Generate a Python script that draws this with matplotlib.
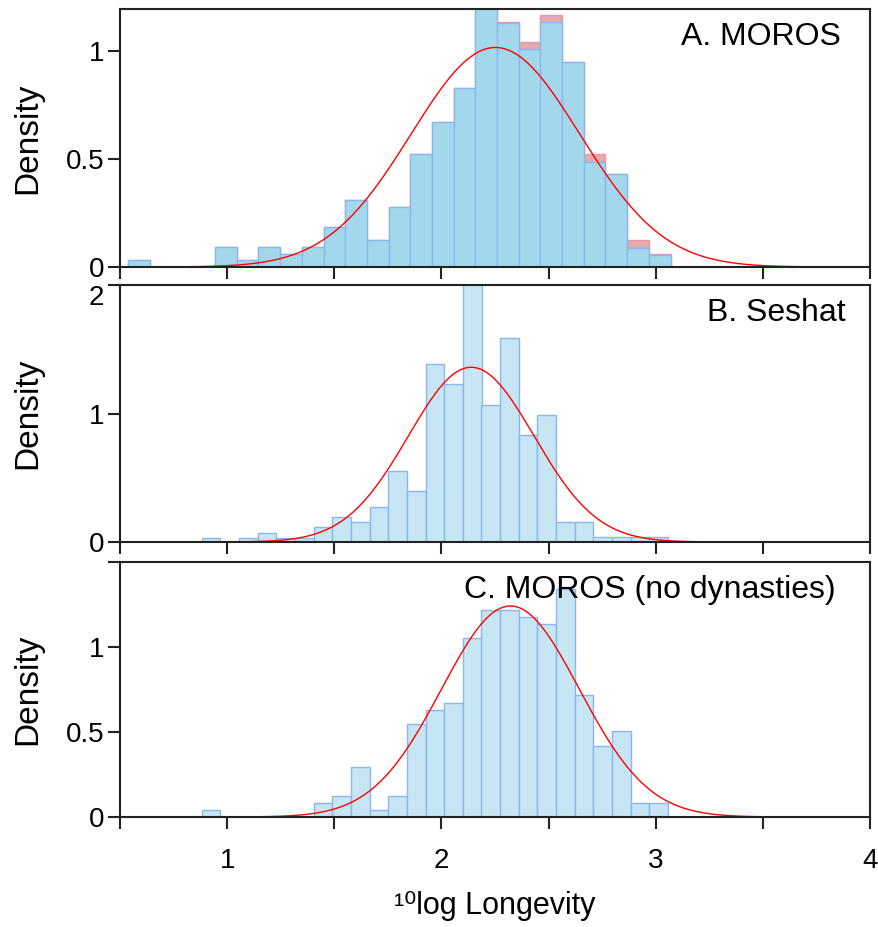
import matplotlib
matplotlib.use('Agg')
import matplotlib.pyplot as plt
import numpy as np

plt.rcParams['font.family'] = ['Liberation Sans', 'DejaVu Sans']

# A. MOROS  (25 bins from 0.539 to 3.069)
a_lo, a_hi = 0.539, 3.069
a_blue = [0.031, 0, 0, 0, 0.093, 0.031, 0.093, 0.062, 0.093, 0.185, 0.308, 0.124,
          0.277, 0.521, 0.672, 0.827, 1.25, 1.128, 1.008, 1.131, 0.947, 0.487,
          0.430, 0.088, 0.057]
a_red = [0.031, 0, 0, 0, 0.093, 0.031, 0.093, 0.062, 0.093, 0.185, 0.308, 0.124,
         0.277, 0.521, 0.672, 0.827, 1.25, 1.134, 1.040, 1.164, 0.950, 0.521,
         0.430, 0.124, 0.062]
a_mu, a_sd = 2.252, 0.393

# B. Seshat (25 bins from 0.882 to 3.057)
b_lo, b_hi = 0.882, 3.057
b_vals = [0.034, 0, 0.034, 0.073, 0.034, 0.034, 0.113, 0.194, 0.152, 0.273, 0.551,
          0.394, 1.386, 1.228, 2.3, 1.068, 1.585, 0.832, 0.990, 0.155, 0.155,
          0.037, 0.037, 0.037, 0.037]
b_mu, b_sd = 2.139, 0.2934

# C. MOROS (no dynasties), same bins as B
c_vals = [0.041, 0, 0, 0, 0, 0, 0.082, 0.125, 0.294, 0.041, 0.125, 0.547, 0.629,
          0.671, 1.053, 1.220, 1.220, 1.176, 1.135, 1.343, 0.716, 0.420, 0.504,
          0.082, 0.082]
c_mu, c_sd = 2.322, 0.3214

titles = ['A. MOROS', 'B. Seshat', 'C. MOROS (no dynasties)']
title_x = [0.961, 0.967, 0.954]

edge_blue = '#8cb6ef'
fill_dark = '#a3d7ec'
fill_light = '#c6e6f3'


def norm_pdf(x, mu, sd):
    return np.exp(-0.5 * ((x - mu) / sd) ** 2) / (sd * np.sqrt(2 * np.pi))


def draw_hist(ax, lo, hi, vals, fc, ec, lw=1.0, z=2):
    edges = np.linspace(lo, hi, len(vals) + 1)
    w = edges[1] - edges[0]
    ax.bar(edges[:-1], vals, width=w, align='edge', color=fc,
           edgecolor=ec, linewidth=lw, zorder=z)


fig = plt.figure(figsize=(8.79, 9.27), dpi=100)
left, width = 120 / 879, 750 / 879
axA = fig.add_axes([left, 1 - 267 / 927, width, 258 / 927])
axB = fig.add_axes([left, 1 - 542 / 927, width, 257 / 927])
axC = fig.add_axes([left, 1 - 817 / 927, width, 255 / 927])

xs = np.linspace(0.5, 4, 600)

draw_hist(axA, a_lo, a_hi, a_red, '#e3aab0', '#e89aa2', z=2)
draw_hist(axA, a_lo, a_hi, a_blue, fill_dark, edge_blue, z=3)
axA.plot(xs, norm_pdf(xs, a_mu, a_sd), color='red', lw=1, zorder=4)

draw_hist(axB, b_lo, b_hi, b_vals, fill_light, edge_blue, z=3)
axB.plot(xs, norm_pdf(xs, b_mu, b_sd), color='red', lw=1, zorder=4)

draw_hist(axC, b_lo, b_hi, c_vals, fill_light, edge_blue, z=3)
axC.plot(xs, norm_pdf(xs, c_mu, c_sd), color='red', lw=1, zorder=4)

axA.set_ylim(0, 1.193)
axA.set_yticks([0, 0.5, 1])
axA.set_yticklabels(['0', '0.5', '1'])
axB.set_ylim(0, 2.0)
axB.set_yticks([0, 1, 2])
axB.set_yticklabels(['0', '1', '2'])
axB.get_yticklabels()[-1].set_verticalalignment('top')
axC.set_ylim(0, 1.5)
axC.set_yticks([0, 0.5, 1, 1.5])
axC.set_yticklabels(['0', '0.5', '1', ''])

xt = np.arange(0.5, 4.01, 0.5)
for ax, t, tx in zip([axA, axB, axC], titles, title_x):
    ax.set_xlim(0.5, 4)
    ax.set_xticks(xt)
    ax.set_xticklabels([])
    for s in ax.spines.values():
        s.set_linewidth(1.5)
        s.set_color('#222222')
        s.set_zorder(5)
    ax.tick_params(direction='out', length=8.5, width=1.5, color='#222222',
                   labelsize=20, pad=3)
    ax.set_ylabel('Density', fontsize=24)
    ax.yaxis.set_label_coords(-0.102, 0.5)
    ax.text(tx, 0.89, t, transform=ax.transAxes, ha='right', va='center',
            fontsize=23, zorder=6)

axC.set_xticklabels(['' if v % 1 else str(int(v)) for v in xt])
axC.tick_params(axis='x', pad=14)
axC.set_xlabel('¹⁰log Longevity', fontsize=22, labelpad=12)

fig.savefig('out.png', dpi=100)
